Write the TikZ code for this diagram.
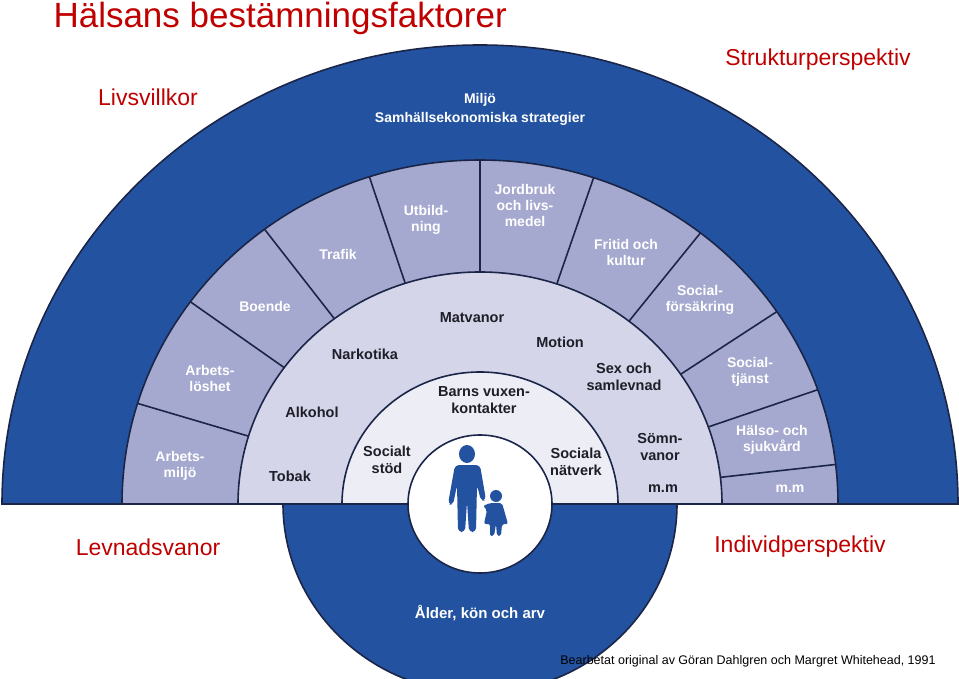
\documentclass[tikz,border=0pt]{standalone}
\usepackage{fontspec}
\setmainfont{Liberation Sans}
\usetikzlibrary{calc}
\definecolor{dblue}{HTML}{2353A0}
\definecolor{ring1}{HTML}{A6A9CF}
\definecolor{ring2}{HTML}{D4D5E9}
\definecolor{ring3}{HTML}{ECEDF5}
\definecolor{edge}{HTML}{1B2548}
\definecolor{redt}{HTML}{C00000}
\definecolor{txt}{HTML}{1E1E28}
\begin{document}
\begin{tikzpicture}[x=1pt,y=-1pt,
  ringline/.style={draw=edge,line width=1.6pt},
  wlab/.style={text=white,font=\bfseries\fontsize{14}{16}\selectfont,align=center},
  dlab/.style={text=txt,font=\bfseries\fontsize{14.5}{16.5}\selectfont,align=center},
  rlab/.style={text=redt,font=\fontsize{23}{26}\selectfont}]
\useasboundingbox (0,0) rectangle (959,679);
\fill[white] (0,0) rectangle (959,679);
\coordinate (c) at (480,504);
% lower semicircle
\begin{scope}
\clip (0,504) rectangle (959,679);
\filldraw[fill=dblue,ringline] (c) ellipse[x radius=197,y radius=189];
\end{scope}
% upper rings
\filldraw[fill=dblue,ringline] (2,504) arc[start angle=-180,end angle=0,x radius=478,y radius=459] -- cycle;
\filldraw[fill=ring1,ringline] (122,504) arc[start angle=-180,end angle=0,x radius=358,y radius=344] -- cycle;
\foreach \a in {6.6,19.4,34,52,71.5,90,108,127,144,163}{
  \draw[ringline] ($(c)+(-\a:242 and 232)$) -- ($(c)+(-\a:358 and 344)$);
}
\filldraw[fill=ring2,ringline] (238,504) arc[start angle=-180,end angle=0,x radius=242,y radius=232] -- cycle;
\filldraw[fill=ring3,ringline] (342,504) arc[start angle=-180,end angle=0,x radius=138,y radius=132] -- cycle;
\draw[ringline] (2,504) -- (958,504);
\filldraw[fill=white,ringline] (c) ellipse[x radius=72,y radius=69];
% figures
\begin{scope}[fill=dblue]
\fill (467,454) ellipse[x radius=8,y radius=9];
\fill[rounded corners=4pt] (455,465) -- (480,465) -- (486,500) -- (481,501) -- (477,485) -- (476,532) -- (469,532) -- (467,502) -- (465,532) -- (458,532) -- (457,485) -- (453,505) -- (448,504) -- cycle;
\fill (496,496) circle[radius=6];
\fill[rounded corners=2pt] (490,503) -- (502,503) -- (508,524) -- (502,524) -- (501,536) -- (497,536) -- (496,524) -- (494,536) -- (490,536) -- (490,524) -- (484,524) -- (487,510) -- (483,506) -- cycle;
\end{scope}
% red labels
\node[text=redt,anchor=west,font=\fontsize{35}{38}\selectfont] (title) at (50,18) {Hälsans bestämningsfaktorer};
\node[rlab] (l1) at (148,97) {Livsvillkor};
\node[rlab] (l2) at (818,60) {Strukturperspektiv};
\node[rlab] (l3) at (148,547) {Levnadsvanor};
\node[rlab] (l4) at (800,547) {Individperspektiv};
\node[font=\fontsize{12.5}{14}\selectfont] (src) at (748,661) {Bearbetat original av Göran Dahlgren och Margret Whitehead, 1991};
% outer ring
\node[wlab,font=\bfseries\fontsize{14}{19}\selectfont] (miljo) at (480,109) {Miljö\\Samhällsekonomiska strategier};
% sectors
\node[wlab] (s1) at (180,466) {Arbets-\\miljö};
\node[wlab] (s2) at (210,378) {Arbets-\\löshet};
\node[wlab] (s3) at (265,306) {Boende};
\node[wlab] (s4) at (338,254) {Trafik};
\node[wlab] (s5) at (426,220) {Utbild-\\ning};
\node[wlab] (s6) at (525,205) {Jordbruk\\och livs-\\medel};
\node[wlab] (s7) at (626,252) {Fritid och\\kultur};
\node[wlab] (s8) at (700,300) {Social-\\försäkring};
\node[wlab] (s9) at (750,372) {Social-\\tjänst};
\node[wlab] (s10) at (772,440) {Hälso- och\\sjukvård};
\node[wlab] (s11) at (790,489) {m.m};
% lifestyle ring
\node[dlab] (t1) at (290,476) {Tobak};
\node[dlab] (t2) at (312,412) {Alkohol};
\node[dlab] (t3) at (365,354) {Narkotika};
\node[dlab] (t4) at (472,318) {Matvanor};
\node[dlab] (t5) at (560,342) {Motion};
\node[dlab] (t6) at (624,377) {Sex och\\samlevnad};
\node[dlab] (t7) at (660,447) {Sömn-\\vanor};
\node[dlab] (t8) at (663,489) {m.m};
% inner ring
\node[dlab] (u1) at (484,400) {Barns vuxen-\\kontakter};
\node[dlab] (u2) at (387,460) {Socialt\\stöd};
\node[dlab] (u3) at (576,462) {Sociala\\nätverk};
\node[wlab,font=\bfseries\fontsize{15}{17}\selectfont] (age) at (480,613) {Ålder, kön och arv};
\end{tikzpicture}
\end{document}
